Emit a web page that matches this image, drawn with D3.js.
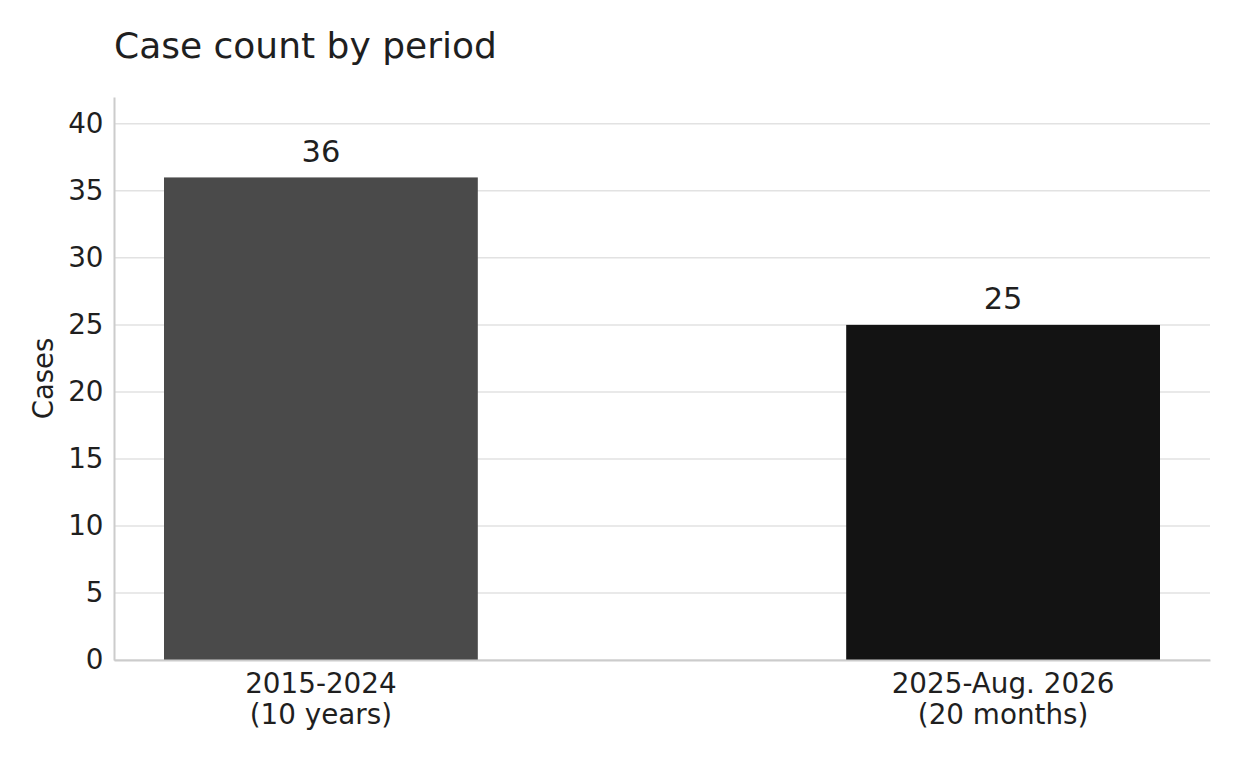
<!DOCTYPE html>
<html>
<head>
<meta charset="utf-8">
<script src="https://cdn.jsdelivr.net/npm/d3@7"></script>
<style>
  body { margin: 0; background: #fff; }
  text { font-family: "DejaVu Sans", sans-serif; fill: #1f1f1f; }
</style>
</head>
<body>
<svg id="chart"></svg>
<script>
// chart data
const periods = ['2015-2024', '2025-Aug. 2026'];
const periodNotes = ['(10 years)', '(20 months)'];
const cases = [36, 25];
const yTicks = [0, 5, 10, 15, 20, 25, 30, 35, 40];
const yMax = 42;

const barColors = ['#4a4a4a', '#131313'];

const width = 1240, height = 760;
const margin = { top: 97, right: 30, bottom: 100, left: 114 };

const svg = d3.select('#chart')
    .attr('width', width)
    .attr('height', height);

const x = d3.scaleBand()
    .domain(periods)
    .range([margin.left, width - margin.right])
    .paddingInner(0.54)
    .paddingOuter(0.0733);

const y = d3.scaleLinear()
    .domain([0, yMax])
    .range([height - margin.bottom, margin.top]);

// grid lines
svg.append('g')
    .selectAll('line')
    .data(yTicks)
    .join('line')
    .attr('x1', margin.left)
    .attr('x2', width - margin.right)
    .attr('y1', d => y(d))
    .attr('y2', d => y(d))
    .attr('stroke', '#e2e2e2')
    .attr('stroke-width', 1.5);

// bars
svg.append('g')
    .selectAll('rect')
    .data(cases)
    .join('rect')
    .attr('x', (d, i) => x(periods[i]))
    .attr('width', x.bandwidth())
    .attr('y', d => y(d))
    .attr('height', d => y(0) - y(d))
    .attr('fill', (d, i) => barColors[i]);

// value labels
svg.append('g')
    .selectAll('text')
    .data(cases)
    .join('text')
    .attr('x', (d, i) => x(periods[i]) + x.bandwidth() / 2)
    .attr('y', d => y(d) - 15.5)
    .attr('text-anchor', 'middle')
    .style('font-size', '30.5px')
    .text(d => d);

// y axis
const yAxis = d3.axisLeft(y)
    .tickValues(yTicks)
    .tickSize(0)
    .tickPadding(10.5);

svg.append('g')
    .attr('transform', `translate(${margin.left},0)`)
    .call(yAxis)
    .call(g => g.select('.domain')
        .attr('stroke', '#cccccc')
        .attr('stroke-width', 2))
    .call(g => g.selectAll('.tick text')
        .attr('fill', '#1f1f1f')
        .style('font-size', '27.8px')
        .style('font-family', '"DejaVu Sans", sans-serif'));

// x axis
const xAxis = d3.axisBottom(x).tickSize(0).tickPadding(0);

svg.append('g')
    .attr('transform', `translate(0,${height - margin.bottom})`)
    .call(xAxis)
    .call(g => g.select('.domain')
        .attr('stroke', '#cccccc')
        .attr('stroke-width', 2))
    .call(g => g.selectAll('.tick text')
        .attr('fill', '#1f1f1f')
        .attr('dy', null)
        .attr('y', 0)
        .style('font-size', '27.8px')
        .style('font-family', '"DejaVu Sans", sans-serif')
        .text(null)
        .each(function (d, i) {
            const t = d3.select(this);
            t.append('tspan').attr('x', 0).attr('y', 33).text(periods[i]);
            t.append('tspan').attr('x', 0).attr('y', 64).text(periodNotes[i]);
        }));

// y axis title
svg.append('text')
    .attr('transform', `translate(53,${(margin.top + height - margin.bottom) / 2}) rotate(-90)`)
    .attr('text-anchor', 'middle')
    .style('font-size', '27.5px')
    .text('Cases');

// chart title
svg.append('text')
    .attr('x', margin.left)
    .attr('y', 58)
    .style('font-size', '36px')
    .text('Case count by period');
</script>
</body>
</html>
